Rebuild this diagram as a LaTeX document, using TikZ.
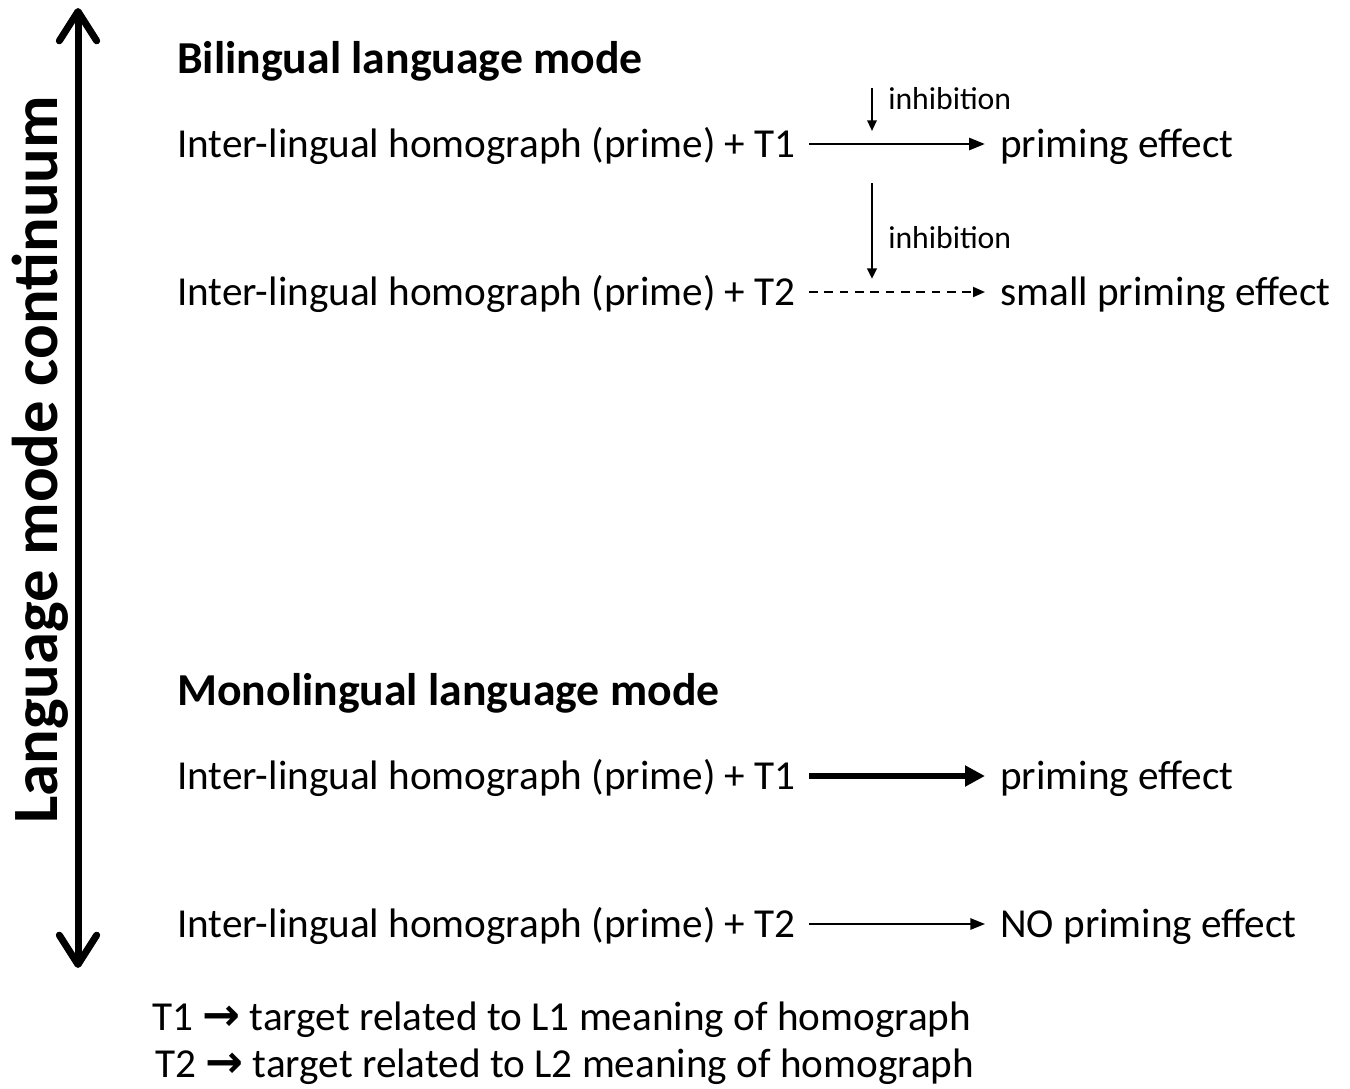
\documentclass[tikz,border=0pt]{standalone}
\usepackage{fontspec}
\setmainfont{Carlito}
\newfontfamily\arrowfont{DejaVu Sans}
\usetikzlibrary{arrows.meta}

\begin{document}
\begin{tikzpicture}[
    x=0.75pt, y=-0.75pt,
    heading/.style={anchor=base west, inner sep=0pt, font=\fontsize{34.3}{40}\selectfont\bfseries},
    rowtext/.style={anchor=base west, inner sep=0pt, text height=22pt, text depth=2.5pt, font=\fontsize{30.9}{36}\selectfont},
    note/.style={anchor=base west, inner sep=0pt, font=\fontsize{23.8}{28}\selectfont},
    link/.style={shorten <=9.75pt, shorten >=11.25pt},
    inhibit/.style={-{Triangle[length=8pt, width=7pt]}, line width=1.5pt}
]
    \useasboundingbox (0,0) rectangle (1350,1089);

    % Continuum axis
    \coordinate (axtop) at (78,8);
    \coordinate (axbot) at (78,968);
    \draw[line width=5.25pt, {Straight Barb[round, length=22pt, width=28pt]}-{Straight Barb[round, length=22pt, width=28pt]}] (axbot) -- (axtop);
    \node[rotate=90, inner sep=0pt, font=\fontsize{48.5}{52}\selectfont\bfseries] (axlabel) at (40,460) {Language mode continuum};

    % Bilingual mode
    \node[heading] (bihead) at (177,73) {Bilingual language mode};
    \node[rowtext] (birow1) at (177,157) {Inter-lingual homograph (prime) + T1};
    \node[rowtext] (bieff1) at (1000,157) {priming effect};
    \node[rowtext] (birow2) at (177,305) {Inter-lingual homograph (prime) + T2};
    \node[rowtext] (bieff2) at (1000,305) {small priming effect};
    \draw[link, -{Triangle[length=12pt, width=9pt]}, line width=2.2pt] (birow1) -- (bieff1);
    \draw[link, -{Triangle[length=9pt, width=7.5pt]}, line width=1.4pt, dash pattern=on 6.5pt off 5pt] (birow2) -- (bieff2);

    % Inhibition
    \coordinate (inhA1) at (872,88);
    \coordinate (inhA2) at (872,131);
    \coordinate (inhB1) at (872,183);
    \coordinate (inhB2) at (872,279);
    \draw[inhibit] (inhA1) -- (inhA2);
    \draw[inhibit, line width=2pt] (inhB1) -- (inhB2);
    \node[note] (inhlabA) at (888,109) {inhibition};
    \node[note] (inhlabB) at (888,248) {inhibition};

    % Monolingual mode
    \node[heading] (monohead) at (177,705) {Monolingual language mode};
    \node[rowtext] (monorow1) at (177,789) {Inter-lingual homograph (prime) + T1};
    \node[rowtext] (monoeff1) at (1000,789) {priming effect};
    \node[rowtext] (monorow2) at (177,937) {Inter-lingual homograph (prime) + T2};
    \node[rowtext] (monoeff2) at (1000,937) {NO priming effect};
    \draw[link, -{Triangle[length=15pt, width=15pt]}, line width=5pt] (monorow1) -- (monoeff1);
    \draw[link, -{Triangle[length=11pt, width=8.5pt]}, line width=1.4pt] (monorow2) -- (monoeff2);

    % Legend
    \node[rowtext] (legend1) at (152,1030) {T1 {\arrowfont\bfseries\fontsize{34}{36}\selectfont →} target related to L1 meaning of homograph};
    \node[rowtext] (legend2) at (155,1077) {T2 {\arrowfont\bfseries\fontsize{34}{36}\selectfont →} target related to L2 meaning of homograph};
\end{tikzpicture}
\end{document}
